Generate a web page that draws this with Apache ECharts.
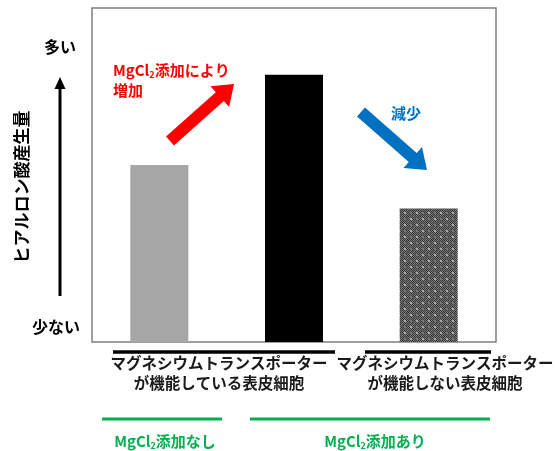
<!DOCTYPE html>
<html>
<head>
<meta charset="utf-8">
<script src="https://cdn.jsdelivr.net/npm/echarts@6/dist/echarts.min.js"></script>
<style>
html,body{margin:0;padding:0;background:#fff;}
#main{width:556px;height:451px;}
</style>
</head>
<body>
<div id="main"></div>
<script>
// Bars: hyaluronic acid production per cell condition
const categories = ['機能+添加なし', '機能+添加あり', '非機能+添加あり'];
const values = [53, 80, 40];
const cellGroupLines = [['マグネシウムトランスポーター', 'が機能している表皮細胞'], ['マグネシウムトランスポーター', 'が機能しない表皮細胞']];
const levelLabels = ['多い', '少ない'];
const yTitle = 'ヒアルロン酸産生量';
const increaseText = ['添加により', '増加'];
const decreaseText = '減少';
const treatmentLabels = ['添加なし', '添加あり'];

const FONT = '"Noto Sans CJK JP", "Noto Sans", sans-serif';

// Dotted texture for the third bar
function makePattern() {
  const c = document.createElement('canvas');
  c.width = 12; c.height = 12;
  const ctx = c.getContext('2d');
  for (let y = 0; y < 12; y++) {
    for (let x = 0; x < 12; x++) {
      const chk = (x + y) % 2 === 0;
      const block = (Math.floor(x / 6) + Math.floor(y / 6)) % 2 === 0;
      const cross = (x % 6 === 2 || x % 6 === 3) && (y % 6 === 2 || y % 6 === 3);
      let v;
      if (cross) v = block ? 170 : 120;
      else v = chk ? (block ? 45 : 60) : (block ? 135 : 110);
      ctx.fillStyle = 'rgb(' + v + ',' + v + ',' + v + ')';
      ctx.fillRect(x, y, 1, 1);
    }
  }
  return c;
}

function arrowPoints(tail, tip, sw, hw, hl) {
  const dx = tip[0] - tail[0], dy = tip[1] - tail[1];
  const len = Math.sqrt(dx * dx + dy * dy);
  const ux = dx / len, uy = dy / len;
  const nx = -uy, ny = ux;
  const bx = tip[0] - ux * hl, by = tip[1] - uy * hl;
  return [
    [tail[0] + nx * sw / 2, tail[1] + ny * sw / 2],
    [bx + nx * sw / 2, by + ny * sw / 2],
    [bx + nx * hw / 2, by + ny * hw / 2],
    tip,
    [bx - nx * hw / 2, by - ny * hw / 2],
    [bx - nx * sw / 2, by - ny * sw / 2],
    [tail[0] - nx * sw / 2, tail[1] - ny * sw / 2]
  ];
}

const chart = echarts.init(document.getElementById('main'), null, {renderer: 'canvas'});

const barColors = ['#a6a6a6', '#000000', {image: makePattern(), repeat: 'repeat'}];

function richWith(color) {
  return {
    r: {fontFamily: FONT, fontWeight: 'bold', fontSize: 15, fill: color},
    s: {fontFamily: FONT, fontWeight: 'bold', fontSize: 9, verticalAlign: 'bottom', padding: [9, 0, 0, 0], fill: color}
  };
}

const option = {
  animation: false,
  backgroundColor: '#fff',
  grid: {left: 92, top: 8, width: 404, height: 334, show: true, borderColor: '#7f7f7f', borderWidth: 1.5, backgroundColor: 'transparent'},
  xAxis: {type: 'category', data: categories, axisLine: {show: false}, axisTick: {show: false}, axisLabel: {show: false}},
  yAxis: {type: 'value', min: 0, max: 100, splitLine: {show: false}, axisLine: {show: false}, axisTick: {show: false}, axisLabel: {show: false}},
  series: [{
    type: 'bar',
    barWidth: 58,
    data: values.map((v, i) => ({value: v, itemStyle: {color: barColors[i]}}))
  }],
  graphic: [
    // y title and direction arrow
    {type: 'text', x: 22, y: 187, rotation: Math.PI / 2, style: {text: yTitle, font: 'bold 17px ' + FONT, fill: '#000', align: 'center', verticalAlign: 'middle'}},
    {type: 'line', shape: {x1: 60, y1: 86, x2: 60, y2: 296}, style: {stroke: '#000', lineWidth: 3}},
    {type: 'polygon', shape: {points: [[60, 77], [54.5, 89], [65.5, 89]]}, style: {fill: '#000'}},
    {type: 'text', x: 60, y: 47, style: {text: levelLabels[0], font: 'bold 16px ' + FONT, fill: '#000', align: 'center', verticalAlign: 'middle'}},
    {type: 'text', x: 56, y: 327, style: {text: levelLabels[1], font: 'bold 16px ' + FONT, fill: '#000', align: 'center', verticalAlign: 'middle'}},

    // red increase arrow and note
    {type: 'polygon', shape: {points: arrowPoints([170, 141], [234, 84], 12, 28, 19)}, style: {fill: '#ff0000'}},
    {type: 'text', x: 113, y: 70, style: {text: '{r|MgCl}{s|2}{r|' + increaseText[0] + '}', rich: richWith('#ff0000'), verticalAlign: 'middle'}},
    {type: 'text', x: 113, y: 90, style: {text: increaseText[1], font: 'bold 15px ' + FONT, fill: '#ff0000', verticalAlign: 'middle'}},

    // blue decrease arrow and note
    {type: 'polygon', shape: {points: arrowPoints([361, 112], [427, 170], 12, 28, 19)}, style: {fill: '#0070c0'}},
    {type: 'text', x: 406, y: 113, style: {text: decreaseText, font: 'bold 15px ' + FONT, fill: '#0070c0', align: 'center', verticalAlign: 'middle'}},

    // cell group underlines and labels
    {type: 'line', shape: {x1: 113, y1: 352, x2: 335, y2: 352}, style: {stroke: '#000', lineWidth: 3.5}},
    {type: 'line', shape: {x1: 365, y1: 352, x2: 491, y2: 352}, style: {stroke: '#000', lineWidth: 3.5}},
    {type: 'text', x: 219, y: 373, style: {text: cellGroupLines[0].join('\n'), font: 'bold 15.5px ' + FONT, fill: '#1a1a1a', align: 'center', verticalAlign: 'middle', lineHeight: 20}},
    {type: 'text', x: 445, y: 373, style: {text: cellGroupLines[1].join('\n'), font: 'bold 15.5px ' + FONT, fill: '#1a1a1a', align: 'center', verticalAlign: 'middle', lineHeight: 20}},

    // treatment underlines and labels
    {type: 'line', shape: {x1: 102, y1: 419, x2: 222, y2: 419}, style: {stroke: '#00b050', lineWidth: 3}},
    {type: 'line', shape: {x1: 250, y1: 419, x2: 490, y2: 419}, style: {stroke: '#00b050', lineWidth: 3}},
    {type: 'text', x: 165, y: 441, style: {text: '{r|MgCl}{s|2}{r|' + treatmentLabels[0] + '}', rich: richWith('#00b050'), align: 'center', verticalAlign: 'middle'}},
    {type: 'text', x: 375, y: 441, style: {text: '{r|MgCl}{s|2}{r|' + treatmentLabels[1] + '}', rich: richWith('#00b050'), align: 'center', verticalAlign: 'middle'}}
  ]
};
chart.setOption(option);
</script>
</body>
</html>
